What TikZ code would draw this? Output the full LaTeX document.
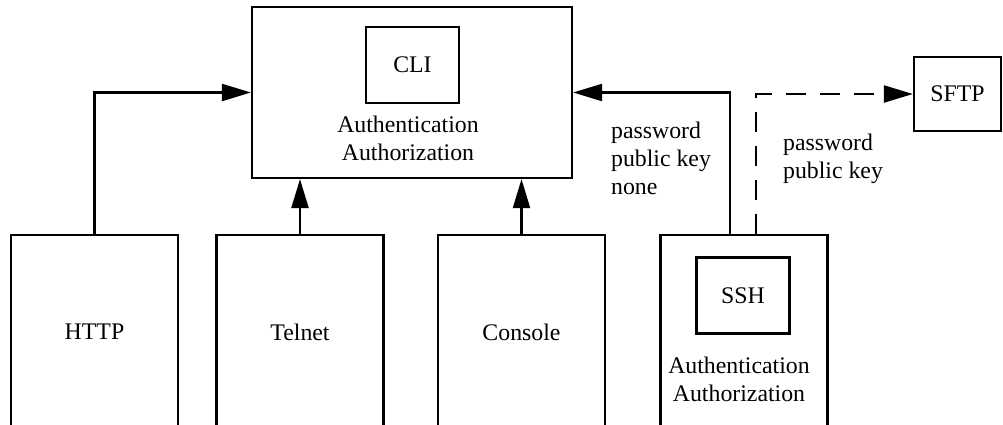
\documentclass[tikz,border=0pt]{standalone}
\usepackage{fontspec}
\setmainfont{Liberation Serif}
\usetikzlibrary{arrows.meta}

\begin{document}
\begin{tikzpicture}[x=0.5pt, y=-0.5pt, line width=1.1pt,
  every node/.style={font=\fontsize{11.9}{14}\selectfont},
  box/.style={draw,rectangle,inner sep=0pt,align=center},
  tall/.style={box,minimum width=83.5pt,minimum height=97pt},
  small/.style={box,minimum width=46.5pt,minimum height=38pt},
  link/.style={-{Triangle[length=14.5pt,width=8.5pt]}},
  note/.style={align=left,anchor=west,inner sep=0pt}]
\useasboundingbox (0,0) rectangle (1003,424);
\clip (0,0) rectangle (1003,424);
% management core
\node[box,minimum width=160pt,minimum height=85.5pt] (core) at (412,92.5) {};
\node[small] (cli) at (412.5,65) {CLI};
\node[align=center] (core-auth) at (408,138.5) {Authentication\\Authorization};
% access methods
\node[tall] (http) at (94.5,332) {HTTP};
\node[tall] (telnet) at (300,332) {Telnet};
\node[tall] (console) at (521.5,332) {Console};
\node[tall] (ssh-box) at (744,332) {};
\node[small] (ssh) at (743,295.5) {SSH};
\node[align=center] (ssh-auth) at (739,379.5) {Authentication\\Authorization};
\node[small,minimum width=43.5pt,minimum height=37pt] (sftp) at (957.5,94) {SFTP};
% connections
\draw[link] (http.north) |- (core.west);
\draw[link] (telnet.north) -- (telnet.north |- core.south);
\draw[link] (console.north) -- (console.north |- core.south);
\draw[link] ([xshift=-7pt]ssh-box.north) |- (core.east);
\draw[link,dash pattern=on 10pt off 7pt] ([xshift=6pt]ssh-box.north) |- (sftp.west);
\node[note] (ssh-methods) at (610,158) {password\\public key\\none};
\node[note] (sftp-methods) at (782,159) {password\\public key};
\end{tikzpicture}
\end{document}
